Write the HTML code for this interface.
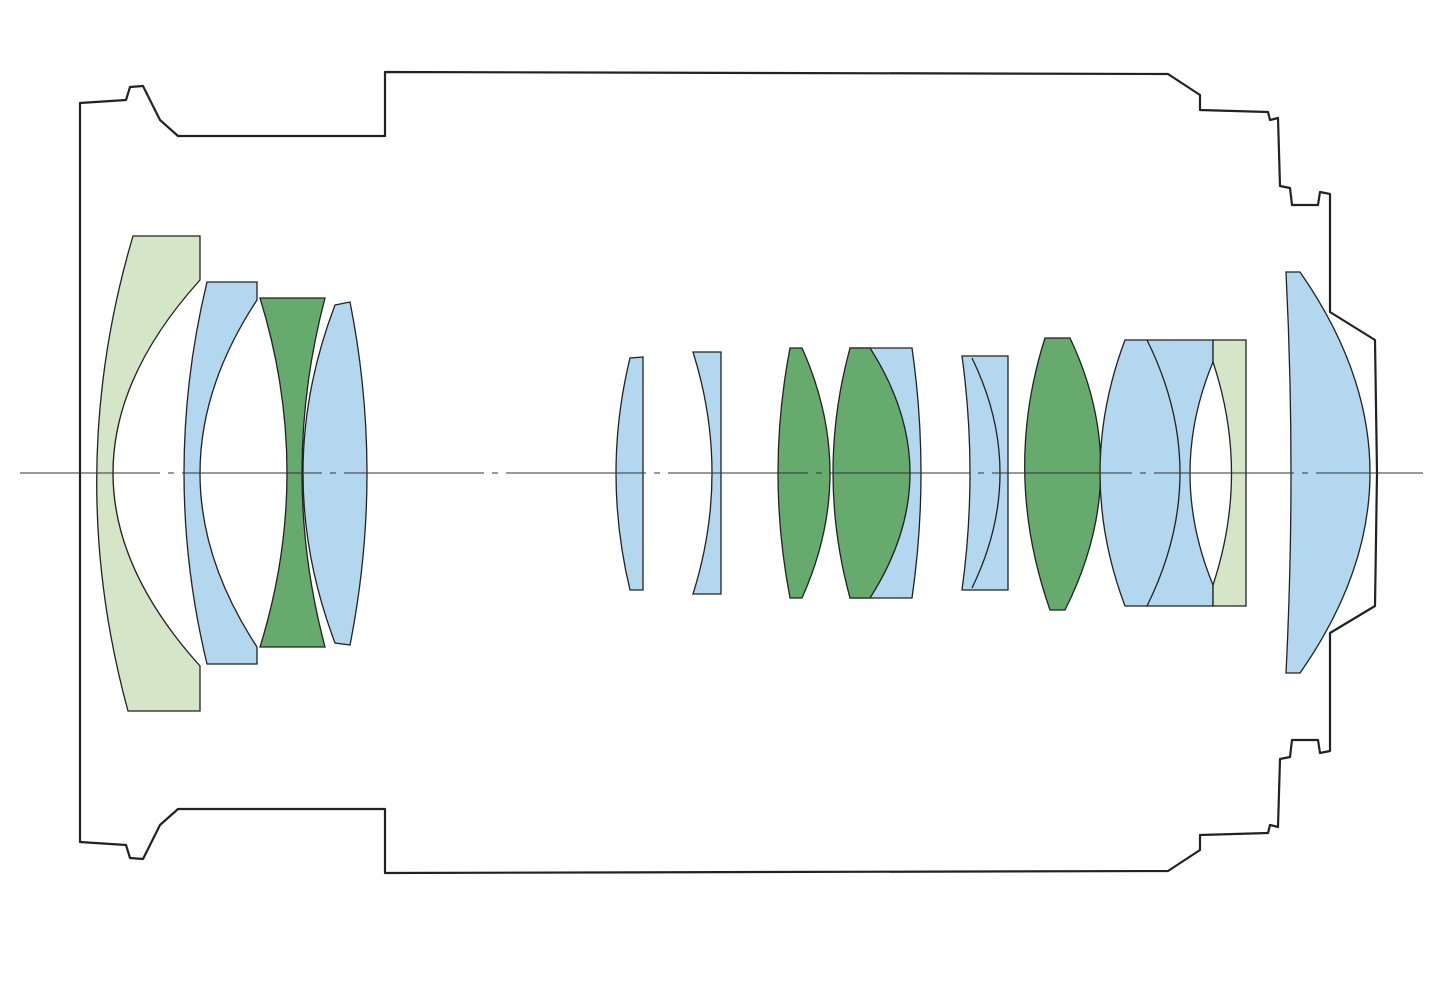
<!DOCTYPE html>
<html><head><meta charset="utf-8"><style>html,body{margin:0;padding:0;background:#fff}svg{display:block}</style></head>
<body>
<svg width="1445" height="995" viewBox="0 0 1445 995" xmlns="http://www.w3.org/2000/svg">
<g fill="none" stroke="#222" stroke-width="2.2" stroke-linejoin="round">
<path d="M80,103 L126,100 L130,87 L143,86 L160,120 L178,136 L385,136 L385,72 L1168,74 L1200,95 L1200,110 L1268,112 L1270,120 L1278,118 L1280,186 L1290,188 L1292,205 L1318,205 L1320,192 L1330,194 L1330,312 L1375,340 L1377,473 L1375,606 L1330,633 L1330,751 L1320,753 L1318,740 L1292,740 L1290,757 L1280,759 L1278,827 L1270,825 L1268,833 L1200,835 L1200,850 L1168,871 L385,873 L385,809 L178,809 L160,825 L143,859 L130,858 L126,845 L80,842 Z"/>
</g>
<g stroke="#222" stroke-width="1.3">
<path fill="#d5e5c8" d="M133,236 L200,236 L200,280 Q26,473 200,666 L200,711 L128,711 Q63,473 133,236 Z"/>
<path fill="#b3d7ef" d="M207,282 L257,282 L257,300 Q143,473 257,647 L257,664 L207,664 Q161,473 207,282 Z"/>
<path fill="#66aa6e" d="M260,298 L325,298 Q279,473 325,647 L260,647 Q314,473 260,298 Z"/>
<path fill="#b3d7ef" d="M335,305 L350,302 Q384,473 350,645 L335,643 Q271,473 335,305 Z"/>
<path fill="#b3d7ef" d="M630,358 L643,357 L643,590 L630,590 Q602,473 630,358 Z"/>
<path fill="#b3d7ef" d="M693,352 L721,352 L721,594 L693,594 Q731,473 693,352 Z"/>
<path fill="#66aa6e" d="M790,348 L802,348 Q858,473 802,598 L790,598 Q766,473 790,348 Z"/>
<path fill="#b3d7ef" d="M850,348 L912,348 Q930,473 912,598 L850,598 Z"/>
<path fill="#66aa6e" d="M850,348 L870,348 Q950,473 870,598 L850,598 Q816,473 850,348 Z"/>
<path fill="#b3d7ef" d="M962,356 L1008,356 L1008,590 L962,590 Q978,473 962,356 Z"/>
<path fill="none" d="M972,358 Q1028,473 972,588"/>
<path fill="#66aa6e" d="M1045,338 L1070,338 Q1134,473 1065,610 L1050,610 Q1002,473 1045,338 Z"/>
<path fill="#b3d7ef" d="M1125,340 L1213,340 L1213,606 L1125,606 Q1075,473 1125,340 Z"/>
<path fill="none" d="M1147,340 Q1213,473 1147,606"/>
<path fill="#d5e5c8" d="M1213,340 L1246,340 L1246,606 L1213,606 Z"/>
<path fill="#fff" d="M1213,362 Q1167,473 1213,585 Q1250,473 1213,362 Z"/>
<path fill="#b3d7ef" d="M1286,272 L1300,272 Q1440,473 1300,673 L1286,673 Q1296,473 1286,272 Z"/>
</g>
<line x1="20" y1="473" x2="1423" y2="473" stroke="#333" stroke-width="1" stroke-dasharray="140,8,6,8"/>
</svg>
</body></html>
